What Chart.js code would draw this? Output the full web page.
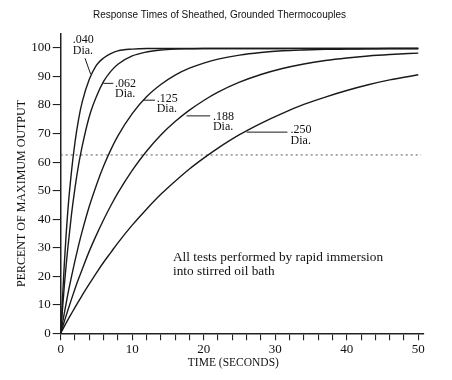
<!DOCTYPE html>
<html><head><meta charset="utf-8">
<script src="https://cdn.jsdelivr.net/npm/chart.js@4.4.0/dist/chart.umd.min.js"></script>
<style>html,body{margin:0;padding:0;background:#fff;} #wrap{width:452px;height:380px;}</style>
</head><body><div id="wrap"><canvas id="c" width="452" height="380"></canvas></div>
<script>
const chartTitle = "Response Times of Sheathed, Grounded Thermocouples";
const xAxisTitle = "TIME (SECONDS)";
const yAxisTitle = "PERCENT OF MAXIMUM OUTPUT";
const noteLines = ["All tests performed by rapid immersion", "into stirred oil bath"];
const diameters = [".040", ".062", ".125", ".188", ".250"];
const times  = [0,0.5,1,1.5,2,2.5,3,4,5,6,7,8,10,12,14,16,18,20,22,25,28,31,34,37,40,43,46,50];
const dia040 = [0,24,43,56.5,67,75,81,89,94,96.5,98,99,99.6,99.8,99.8,99.8,99.8,99.8,99.8,99.8,99.8,99.8,99.8,99.8,99.8,99.8,99.8,99.8];
const dia062 = [0,16.5,30,41.5,51,59,65.5,76,83,88.3,91.8,94.3,97.2,98.6,99.3,99.6,99.7,99.8,99.8,99.8,99.8,99.8,99.8,99.8,99.8,99.8,99.8,99.8];
const dia125 = [0,7,13.7,19.8,25.5,30.8,35.7,44.5,52,58.6,64.3,69.2,77,82.9,87.2,90.5,92.9,94.7,96.1,97.5,98.4,99,99.3,99.5,99.6,99.7,99.8,99.8];
const dia188 = [0,4.1,8.1,11.9,15.6,19.1,22.4,28.8,34.5,39.8,44.7,49.2,57.1,63.8,69.5,74.2,78.2,81.6,84.5,88,90.7,92.8,94.4,95.6,96.5,97.2,97.7,98.2];
const dia250 = [0,2.4,4.7,6.9,9.1,11.2,13.3,17.3,21.2,24.9,28.3,31.7,37.9,43.5,48.7,53.3,57.6,61.4,64.9,69.6,73.6,77.1,80.2,82.8,85.1,87.1,88.8,90.6];
const refLevel = 62.5;
const refSpan = [0, 50.4];
const xTickMarks = [0,2,4,6,8,10,12,14,16,18,20,22,24,26,28,30,32,34,36,38,40,42,44,46,48,50];
const xTickLabels = [0,10,20,30,40,50];
const yTickLabels = [0,10,20,30,40,50,60,70,80,90,100];

const seriesValues = [dia040, dia062, dia125, dia188, dia250];
const toPts = (vals) => vals.map((v,i)=>({x: times[i], y: v}));

const datasets = seriesValues.map((vals, i) => ({
  label: diameters[i] + ' Dia.',
  data: toPts(vals),
  borderColor: '#1a1a1a',
  borderWidth: 1.4,
  pointRadius: 0,
  fill: false,
  cubicInterpolationMode: 'monotone'
}));
datasets.push({
  label: 'ref',
  data: refSpan.map(x => ({x: x, y: refLevel})),
  borderColor: '#555',
  borderWidth: 1,
  borderDash: [2,3],
  pointRadius: 0,
  fill: false
});

// annotation placement (data coordinates)
const labelSpots = [
  {t: 1.68, y1: 103.0, y2: 99.1, lead: [[3.40,96.4],[4.19,90.8]]},
  {t: 7.59, y1: 87.6, y2: 83.9, lead: [[5.96,87.6],[7.35,87.6]]},
  {t: 13.42, y1: 82.1, y2: 78.6, lead: [[11.55,81.7],[13.18,81.7]]},
  {t: 21.29, y1: 75.9, y2: 72.2, lead: [[17.6,76.2],[20.9,76.2]]},
  {t: 32.15, y1: 71.3, y2: 67.4, lead: [[26.0,70.5],[31.7,70.5]]}
];

const textPlugin = {
  id: 'texts',
  afterDraw(chart) {
    const ctx = chart.ctx, xs = chart.scales.x, ys = chart.scales.y, ca = chart.chartArea;
    ctx.save();
    ctx.fillStyle = '#111';
    ctx.textBaseline = 'middle';
    ctx.font = '10px "Liberation Sans"';
    ctx.textAlign = 'center';
    ctx.fillText(chartTitle, 219.5, 15);
    ctx.font = '11.5px "Liberation Serif"';
    ctx.fillText(xAxisTitle, (ca.left + ca.right)/2 - 9, 363);
    ctx.save();
    ctx.translate(22, (ca.top + ca.bottom)/2 + 10);
    ctx.rotate(-Math.PI/2);
    ctx.font = '12px "Liberation Serif"';
    ctx.fillText(yAxisTitle, 0, 0);
    ctx.restore();
    ctx.textAlign = 'left';
    ctx.font = '12px "Liberation Serif"';
    ctx.strokeStyle = '#1a1a1a';
    ctx.lineWidth = 1;
    labelSpots.forEach((s, i) => {
      const x = xs.getPixelForValue(s.t);
      ctx.fillText(diameters[i], x, ys.getPixelForValue(s.y1));
      ctx.fillText('Dia.', x, ys.getPixelForValue(s.y2));
      ctx.beginPath();
      ctx.moveTo(xs.getPixelForValue(s.lead[0][0]), ys.getPixelForValue(s.lead[0][1]));
      ctx.lineTo(xs.getPixelForValue(s.lead[1][0]), ys.getPixelForValue(s.lead[1][1]));
      ctx.stroke();
    });
    ctx.font = '13.3px "Liberation Serif"';
    ctx.fillText(noteLines[0], xs.getPixelForValue(15.7), ys.getPixelForValue(26.4));
    ctx.fillText(noteLines[1], xs.getPixelForValue(15.7), ys.getPixelForValue(21.5));
    ctx.restore();
  }
};

new Chart(document.getElementById('c'), {
  type: 'line',
  data: { datasets },
  options: {
    responsive: false,
    animation: false,
    layout: { padding: { top: 33.7, left: 0, right: 28, bottom: 0 } },
    plugins: { legend: { display: false }, tooltip: { enabled: false }, title: { display: false } },
    scales: {
      x: {
        type: 'linear', min: 0, max: 50.8,
        afterFit(s) { s.height = 46.7; },
        afterBuildTicks(s) { s.ticks = xTickMarks.map(v => ({ value: v })); },
        ticks: {
          autoSkip: false, maxRotation: 0, padding: 1,
          color: '#111', font: { family: '"Liberation Serif"', size: 13 },
          callback: (v) => xTickLabels.includes(v) ? String(v) : ''
        },
        grid: { drawOnChartArea: false, drawTicks: true, tickLength: 7, color: '#222', lineWidth: 1.1 },
        border: { display: true, color: '#222', width: 1.5 }
      },
      y: {
        type: 'linear', min: 0, max: 105,
        afterFit(s) { s.width = 60.7; },
        afterBuildTicks(s) { s.ticks = yTickLabels.map(v => ({ value: v })); },
        ticks: {
          autoSkip: false, padding: 2,
          color: '#111', font: { family: '"Liberation Serif"', size: 13 },
          callback: (v) => String(v)
        },
        grid: { drawOnChartArea: false, drawTicks: true, tickLength: 8, color: '#222', lineWidth: 1.1 },
        border: { display: true, color: '#222', width: 1.5 }
      }
    }
  },
  plugins: [textPlugin]
});
</script>
</body></html>
